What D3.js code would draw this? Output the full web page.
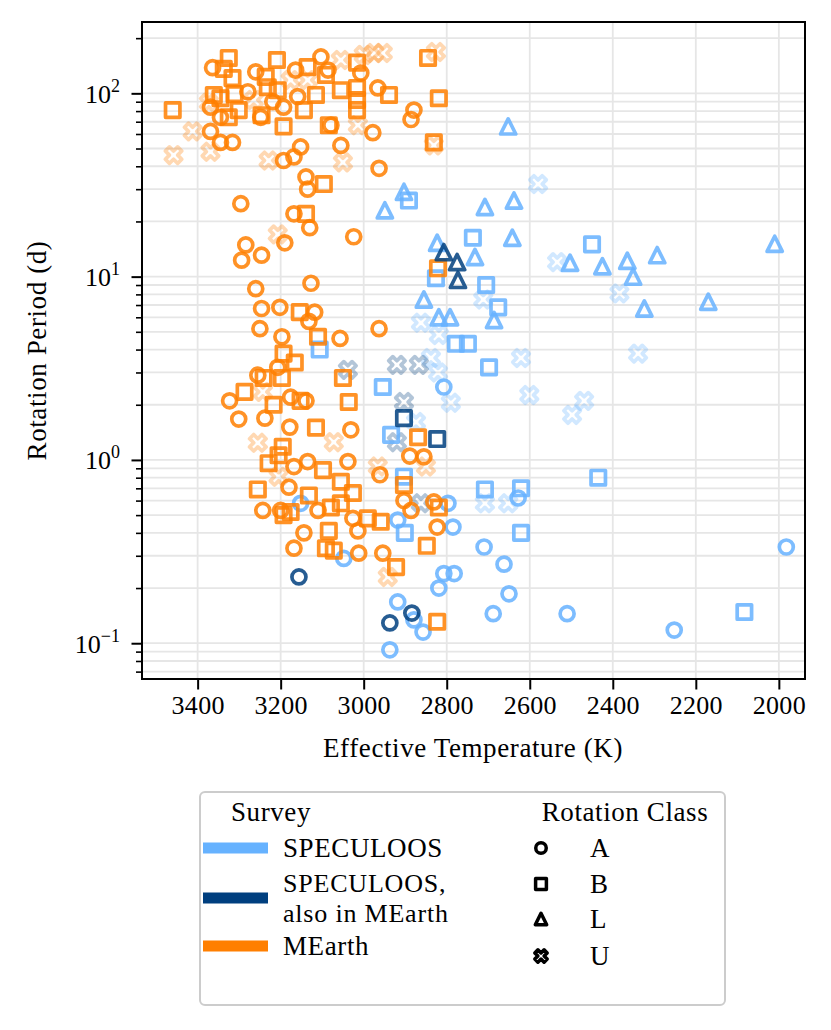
<!DOCTYPE html>
<html><head><meta charset="utf-8">
<script src="https://cdn.jsdelivr.net/npm/d3@7"></script>
<style>body{margin:0;background:#fff} text{font-family:"Liberation Serif","DejaVu Serif",serif;fill:#000}</style>
</head><body><svg id="c" width="831" height="1030"></svg>
<script>
// ---- data: [effective temperature (K), rotation period (d)] ----
const mearthA = [
[3364,138],[3260,131],[3164,134],[3103,158],[3086,134],[3007,129],[2966,107],[2879,81],[2886,72],
[3369,84],[3345,74],[3248,74],[3193,84],[3369,62],[3345,54],[3316,54],[3152,51],[3168,45],[3193,43],
[3055,52],[2978,61],[2963,39],[3139,35],[3135,30],[3296,25],[3168,22],[3079,67],[3159,96],[3279,102],[3219,90],
[3130,18.5],[3190,15.3],[3024,16.5],[3284,14.9],[3294,12.3],[3246,13.1],[3260,8.6],[3127,9.2],
[3246,6.7],[3202,6.8],[3118,6.4],[3132,5.7],[3250,5.2],[2963,5.2],[3197,4.7],[3057,4.6],[3207,3.2],[3255,2.9],
[3323,2.1],[3176,2.2],[3139,2.1],[3301,1.67],[3238,1.69],[3178,1.51],[3031,1.46],
[3168,0.92],[3135,0.98],[3038,0.98],[2961,0.83],[3180,0.71],[3243,0.53],[3200,0.53],[3110,0.53],
[3026,0.48],[3014,0.41],[3144,0.40],[3168,0.33],[3012,0.31],[2954,0.31],[2903,0.60],[2886,0.53],
[2831,0.59],[2823,0.43],[2889,1.05],[2855,1.04]
];
const mearthB = [
[3460,81],[3325,156],[3337,136],[3316,121],[3361,98],[3345,94],[3311,99],[3301,81],[3325,74],
[3209,152],[3236,123],[3231,108],[3207,104],[3246,76],[3193,66],[3144,81],[3135,139],[3115,98],
[3091,126],[3084,67],[3055,104],[3016,147],[3016,107],[3016,92],[3016,81],[2939,98],[2845,156],
[2819,94],[2831,54],[3096,32],[3139,22],
[3154,6.4],[3110,4.7],[3193,3.8],[3166,3.4],[3241,2.8],[3197,2.8],[3287,2.35],[3152,2.1],[3217,2.0],
[3115,1.5],[3050,2.8],[3036,2.07],[2821,11.1],
[3195,1.18],[3205,1.06],[3229,0.96],[3098,0.88],[3055,0.76],[3026,0.66],[3255,0.69],[3132,0.64],
[3193,0.50],[3176,0.52],[3079,0.55],[3055,0.58],[2990,0.48],[2959,0.46],[3084,0.41],[3091,0.33],
[3072,0.32],[2922,0.26],[2903,0.73],[2819,0.55],[2848,0.34],[2869,1.33],[2823,0.131]
];
const mearthU = [
[3458,46],[3412,62],[3369,48],[3373,89],[3055,152],[2975,166],[2954,166],[2826,168],[3014,67],
[3050,42],[3229,43],[2831,52],[3265,92],[3176,118],[3135,118],[3000,162],[3207,17],[3243,2.35],
[3255,1.24],[3072,1.25],[2966,0.92],[3205,0.81],[2942,0.23],[2850,0.92]
];
const specA = [
[2807,2.5],[3152,0.58],[3048,0.29],[2918,0.47],[2797,0.58],[2785,0.43],[2807,0.24],[2782,0.24],
[2819,0.20],[2918,0.168],[2857,0.115],[2879,0.134],[2937,0.092],[2628,0.62],[2710,0.335],[2662,0.27],
[2650,0.186],[2688,0.145],[2510,0.145],[2252,0.118],[1982,0.335]
];
const specB = [
[2891,26],[2737,16.3],[2450,15],[2705,9.0],[2676,6.8],[2778,4.3],[2749,4.3],[2698,3.2],[3106,4.0],
[2954,2.5],[2934,1.37],[2903,0.81],[2708,0.69],[2621,0.70],[2621,0.40],[2901,0.40],[2435,0.80],
[2083,0.148],[2826,9.8]
];
const specL = [
[2903,29],[2949,23],[2652,66],[2708,24],[2638,26],[2642,16.3],[2503,11.9],[2425,11.4],[2365,12.2],
[2351,10.0],[2293,13.1],[2010,15.1],[2324,6.7],[2170,7.3],[2732,12.8],[2686,5.8],[2823,15.3],
[2855,7.5],[2819,6.0],[2792,6.0]
];
const specU = [
[2580,32],[2534,12],[2384,8.1],[2712,7.5],[2621,3.6],[2339,3.8],[2601,2.26],[2469,2.1],[2498,1.76],
[2862,5.6],[2819,4.8],[2790,2.05],[2838,3.6],[2821,3.0],[2874,1.61],[2708,0.58],[2652,0.58]
];
const bothA = [[3156,0.23],[2937,0.129],[2884,0.146]];
const bothB = [[2903,1.69],[2823,1.30]];
const bothL = [[2807,13.6],[2775,12.0],[2773,9.6]];
const bothU = [[3038,3.1],[2920,3.3],[2867,3.3],[2903,2.07],[2920,1.25],[2862,0.58]];

const xTicks = [3400,3200,3000,2800,2600,2400,2200,2000];
const yMajor = [0.1,1,10,100];
const yMajorExp = ["\u22121","0","1","2"];
const surveyNames = ["SPECULOOS",["SPECULOOS,","also in MEarth"],"MEarth"];
const classNames = ["A","B","L","U"];
const colors = {spec:"#66b2ff", both:"#003f7f", mearth:"#ff7f00"};

// ---- layout ----
const svg = d3.select("#c");
const L=142,R=805,T=22,B=679;
const FS=27, LS=0.6;
const x = d3.scaleLinear().domain([3534,1937]).range([L,R]);
const y = d3.scaleLog().domain([0.0638,245]).range([B,T]);
const yMinor = [];
[0.01,0.1,1,10,100].forEach(d=>{for(let k=2;k<=9;k++){const v=d*k; if(v>=y.domain()[0]&&v<=y.domain()[1]) yMinor.push(v);}});

// grid
const grid = svg.append("g").attr("stroke","#e6e6e6").attr("stroke-width",1.8);
grid.selectAll(".gx").data(xTicks).join("line").attr("x1",d=>x(d)).attr("x2",d=>x(d)).attr("y1",T).attr("y2",B);
grid.selectAll(".gy").data(yMajor.concat(yMinor)).join("line").attr("y1",d=>y(d)).attr("y2",d=>y(d)).attr("x1",L).attr("x2",R);

// marker shapes
function xPath(S){
  const pts=[[-1,-3],[1,-3],[1,-1],[3,-1],[3,1],[1,1],[1,3],[-1,3],[-1,1],[-3,1],[-3,-1],[-1,-1]];
  return "M"+pts.map(([a,b])=>{const s=S/6; return [((a-b)/Math.SQRT2*s).toFixed(2),((a+b)/Math.SQRT2*s).toFixed(2)].join(",");}).join("L")+"Z";
}
function shape(cls,k){
  if(cls==="A") return d3.symbol(d3.symbolCircle, Math.PI*(7.0*k)*(7.0*k))();
  if(cls==="B"){const h=7.2*k; return `M${-h},${-h}H${h}V${h}H${-h}Z`;}
  if(cls==="L"){const h=7.6*k; return `M0,${-h}L${h},${h}L${-h},${h}Z`;}
  return xPath(17.5*k);
}
const plot = svg.append("g");
function drawSet(data,cls,color,op){
  plot.append("g").selectAll("path").data(data).join("path")
    .attr("d",shape(cls,1))
    .attr("transform",d=>`translate(${x(d[0])},${y(d[1])})`)
    .attr("fill","none").attr("stroke",color).attr("stroke-width",3.7)
    .attr("stroke-linejoin","round").attr("stroke-opacity",op);
}
drawSet(specU,"U",colors.spec,0.3);
drawSet(bothU,"U",colors.both,0.3);
drawSet(mearthU,"U",colors.mearth,0.3);
drawSet(specA,"A",colors.spec,0.85);
drawSet(specB,"B",colors.spec,0.85);
drawSet(specL,"L",colors.spec,0.85);
drawSet(mearthA,"A",colors.mearth,0.85);
drawSet(mearthB,"B",colors.mearth,0.85);
drawSet(bothA,"A",colors.both,0.85);
drawSet(bothB,"B",colors.both,0.85);
drawSet(bothL,"L",colors.both,0.85);

// frame
svg.append("rect").attr("x",L).attr("y",T).attr("width",R-L).attr("height",B-T)
  .attr("fill","none").attr("stroke","#000").attr("stroke-width",2);

// x axis
const xa = svg.append("g").attr("transform",`translate(0,${B})`)
  .call(d3.axisBottom(x).tickValues(xTicks).tickSize(10.5).tickPadding(6).tickFormat(d3.format("d")));
xa.select(".domain").remove();
xa.selectAll("line").attr("stroke","#000").attr("stroke-width",2);
xa.selectAll("text").attr("font-size",26).attr("font-family","Liberation Serif").attr("letter-spacing",0.3);

// y axis
const ya = svg.append("g").attr("transform",`translate(${L},0)`)
  .call(d3.axisLeft(y).tickValues(yMajor).tickSize(10.5).tickFormat(""));
ya.select(".domain").remove();
ya.selectAll("line").attr("stroke","#000").attr("stroke-width",2);
const ym = svg.append("g").attr("transform",`translate(${L},0)`)
  .call(d3.axisLeft(y).tickValues(yMinor).tickSize(6).tickFormat(""));
ym.select(".domain").remove();
ym.selectAll("line").attr("stroke","#000").attr("stroke-width",1.6);
yMajor.forEach((v,i)=>{
  const t = svg.append("text").attr("x",120).attr("y",y(v)+9.5).attr("text-anchor","end").attr("font-size",26);
  t.append("tspan").text("10");
  t.append("tspan").attr("dy",-11).attr("font-size",18).text(yMajorExp[i]);
});

// axis labels
svg.append("text").attr("x",473).attr("y",757).attr("text-anchor","middle").attr("font-size",FS).attr("letter-spacing",LS)
  .text("Effective Temperature (K)");
svg.append("text").attr("transform",`translate(46,${(T+B)/2}) rotate(-90)`).attr("text-anchor","middle").attr("font-size",FS).attr("letter-spacing",LS)
  .text("Rotation Period (d)");

// legend
const lg = svg.append("g");
lg.append("rect").attr("x",200).attr("y",792).attr("width",525).attr("height",213).attr("rx",5)
  .attr("fill","#fff").attr("stroke","#cccccc").attr("stroke-width",2);
lg.append("text").attr("x",271).attr("y",821).attr("text-anchor","middle").attr("font-size",FS).attr("letter-spacing",LS).text("Survey");
lg.append("text").attr("x",625).attr("y",821).attr("text-anchor","middle").attr("font-size",FS).attr("letter-spacing",LS).text("Rotation Class");
const sy = [848,898,946];
const sc = [colors.spec,colors.both,colors.mearth];
surveyNames.forEach((n,i)=>{
  lg.append("rect").attr("x",203).attr("y",sy[i]-5.5).attr("width",65).attr("height",11).attr("fill",sc[i]);
  if(Array.isArray(n)){
    lg.append("text").attr("x",283).attr("y",sy[i]-6).attr("font-size",26).attr("letter-spacing",0.8).text(n[0]);
    lg.append("text").attr("x",283).attr("y",sy[i]+24).attr("font-size",26).attr("letter-spacing",0.8).text(n[1]);
  } else {
    lg.append("text").attr("x",283).attr("y",sy[i]+9).attr("font-size",FS).attr("letter-spacing",LS).text(n);
  }
});
const cy = [848,884,919,956];
classNames.forEach((c,i)=>{
  lg.append("path").attr("d",shape(c,0.75)).attr("transform",`translate(541,${cy[i]})`)
    .attr("fill","none").attr("stroke","#000").attr("stroke-width",3.5).attr("stroke-linejoin","round");
  lg.append("text").attr("x",590).attr("y",cy[i]+9).attr("font-size",FS).attr("letter-spacing",LS).text(c);
});
</script>
</body></html>
